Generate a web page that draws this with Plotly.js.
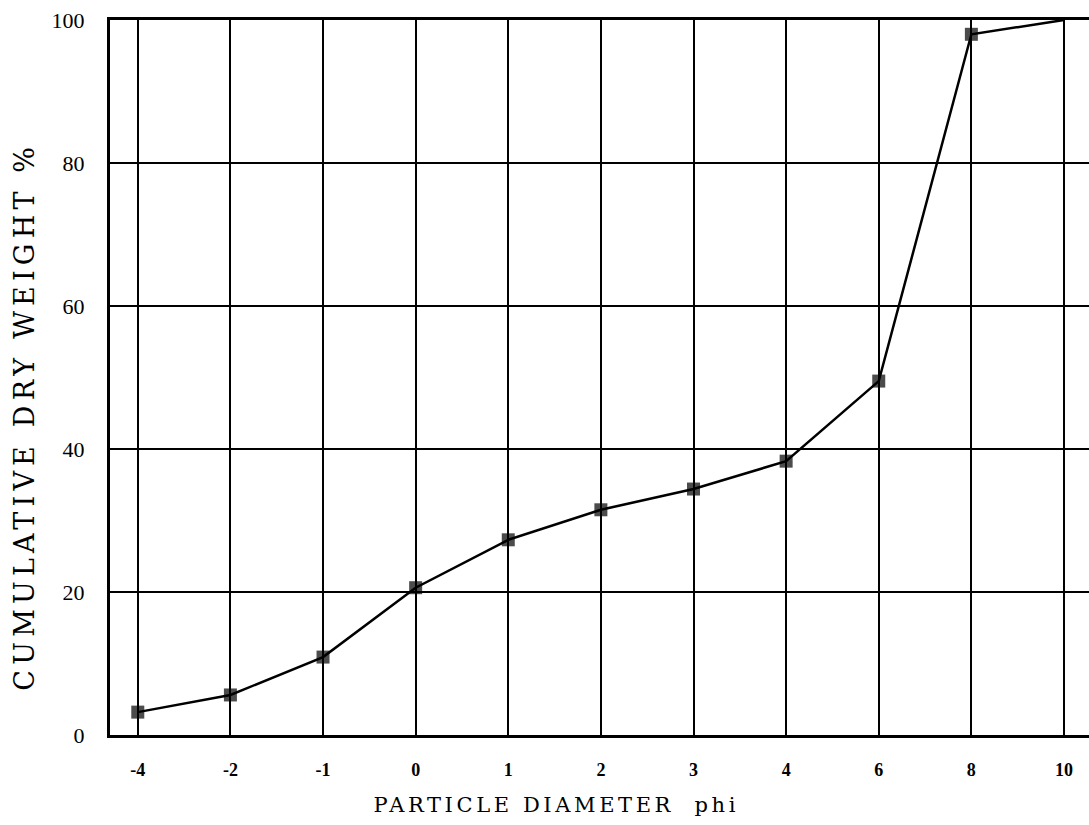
<!DOCTYPE html>
<html><head><meta charset="utf-8">
<script src="https://cdn.plot.ly/plotly-3.0.1.min.js"></script>
<style>body{margin:0;background:#fff}#c{width:1089px;height:825px}</style>
</head><body><div id="c"></div>
<script>
const phiLabels = ["-4","-2","-1","0","1","2","3","4","6","8","10"];
const cumWeight = [3.2, 5.6, 10.9, 20.6, 27.3, 31.5, 34.4, 38.3, 49.5, 98.0, 100];
const yTicks = [0, 20, 40, 60, 80, 100];
const xTitle = 'PARTICLE DIAMETER  phi';
const yTitle = 'CUMULATIVE DRY WEIGHT %';

const markerSizes = cumWeight.map((v, i) => i === cumWeight.length - 1 ? 0 : 13);
const serif = 'Liberation Serif, Times New Roman, serif';
const wideSerif = 'DejaVu Serif, serif';

Plotly.newPlot('c', [{
  x: phiLabels, y: cumWeight, type: 'scatter', mode: 'lines+markers',
  line: {color: '#000', width: 2.5},
  marker: {symbol: 'square', size: markerSizes, color: '#000', line: {width: 0}},
  cliponaxis: true
}], {
  width: 1089, height: 825,
  margin: {l: 110, r: 0, t: 20, b: 90},
  paper_bgcolor: '#fff', plot_bgcolor: '#fff',
  showlegend: false,
  font: {family: serif, color: '#000'},
  xaxis: {
    type: 'category', range: [-0.3, 10.27],
    showgrid: true, gridcolor: '#000', gridwidth: 1.5,
    showline: true, linecolor: '#000', linewidth: 3, mirror: true,
    ticks: '', tickfont: {size: 18, family: serif, weight: 'bold'},
    ticklabelstandoff: 16,
    zeroline: false
  },
  yaxis: {
    range: [0, 100], tickvals: yTicks,
    showgrid: true, gridcolor: '#000', gridwidth: 1.5,
    showline: true, linecolor: '#000', linewidth: 3,
    ticks: '', tickfont: {size: 22, family: serif},
    ticklabelstandoff: 18,
    zeroline: false
  },
  annotations: [
    {text: xTitle, xref: 'paper', yref: 'paper', x: 0.456, y: -0.098,
     xanchor: 'center', yanchor: 'middle', showarrow: false,
     font: {size: 21, family: wideSerif, color: '#000'}},
    {text: yTitle, xref: 'paper', yref: 'paper', x: -0.0868, y: 0.445,
     xanchor: 'center', yanchor: 'middle', showarrow: false, textangle: -90,
     font: {size: 27, family: wideSerif, color: '#000'}}
  ]
}, {displayModeBar: false}).then(() => {
  const t = document.querySelectorAll('#c .annotation-text');
  if (t[0]) t[0].style.letterSpacing = '3.6px';
  if (t[1]) t[1].style.letterSpacing = '5.2px';
});
</script></body></html>
